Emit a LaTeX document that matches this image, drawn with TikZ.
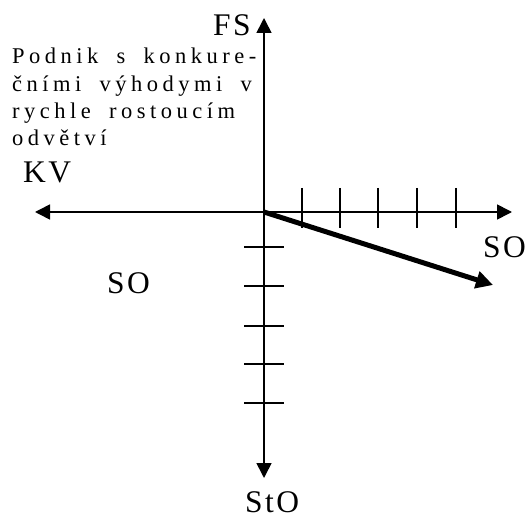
\documentclass[tikz,border=0pt]{standalone}
\usepackage{fontspec}
\setmainfont{Liberation Serif}
\newfontfamily\bigf[LetterSpace=8]{Liberation Serif}
\newfontfamily\smallf[LetterSpace=20,WordSpace=1.8]{Liberation Serif}
\usetikzlibrary{arrows.meta}
\begin{document}
\begin{tikzpicture}[x=1pt,y=-1pt,
  axis/.style={line width=1.6pt,{Triangle[length=15pt,width=15pt]}-{Triangle[length=15pt,width=15pt]}},
  tick/.style={line width=1.6pt},
  vec/.style={line width=5pt,-{Triangle[length=17pt,width=17pt]}},
  biglab/.style={inner sep=0pt,anchor=base west,text depth=0pt,font=\bigf\fontsize{31.5}{31.5}\selectfont},
  smalllab/.style={inner sep=0pt,anchor=base west,font=\smallf\fontsize{22.5}{22.5}\selectfont}]
\useasboundingbox (0,0) rectangle (529,518);
\coordinate (O) at (264,212);
\coordinate (top) at (264,18);
\coordinate (bot) at (264,478);
\coordinate (left) at (35,212);
\coordinate (right) at (512,212);
\coordinate (vend) at (493,285);
\draw[axis] (bot) -- (top);
\draw[axis] (left) -- (right);
\foreach \x in {302,340,378,417,456} \draw[tick] (\x,188) -- (\x,228);
\foreach \y in {247,286,326,364,403} \draw[tick] (244,\y) -- (284,\y);
\draw[vec] (O) -- (vend);
\node[biglab,anchor=base east] (fs) at (251,36) {FS};
\node[smalllab] (p1) at (12,64) {Podnik s konkure-};
\node[smalllab] (p2) at (12,91.3) {čními výhodymi v};
\node[smalllab] (p3) at (12,118.7) {rychle rostoucím};
\node[smalllab] (p4) at (12,146) {odvětví};
\node[biglab] (kv) at (23,183) {KV};
\node[biglab] (so1) at (483,258) {SO};
\node[biglab] (so2) at (107,293) {SO};
\node[biglab] (sto) at (245,512) {StO};
\end{tikzpicture}
\end{document}
